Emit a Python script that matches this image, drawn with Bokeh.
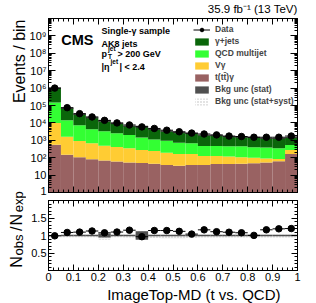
import numpy as np
from math import pi
from bokeh.plotting import figure
from bokeh.layouts import column, row
from bokeh.models import (Range1d, FixedTicker, LinearAxis, LogAxis, Label, Title,
                          Legend, LegendItem, CustomLabelingPolicy)
from bokeh.embed import file_html
from bokeh.resources import INLINE

# ---------------- data ----------------
bin_lo = [0.00, 0.05, 0.10, 0.15, 0.20, 0.25, 0.30, 0.35, 0.40, 0.45,
          0.50, 0.55, 0.60, 0.65, 0.70, 0.75, 0.80, 0.85, 0.90, 0.95]
bin_hi = [0.05, 0.10, 0.15, 0.20, 0.25, 0.30, 0.35, 0.40, 0.45, 0.50,
          0.55, 0.60, 0.65, 0.70, 0.75, 0.80, 0.85, 0.90, 0.95, 1.00]
data_obs = [1.0e6, 75000, 34000, 22000, 14000, 10000, 7600, 5900, 4800, 3800,
            3100, 2600, 2300, 2050, 1750, 1650, 1500, 1500, 1500, 1750]
gjets = [860000, 55000, 23700, 15200, 9700, 6600, 4600, 4650, 3100, 2390,
         2050, 1820, 1510, 1380, 1150, 1080, 1100, 900, 910, 925]
qcd = [140000, 12400, 6400, 3630, 2810, 2090, 1650, 1180, 855, 745,
       555, 515, 344, 344, 332, 343, 297, 301, 265, 260]
vgamma = [9250, 1455, 793, 588, 421, 350, 297, 226, 200, 158,
          131, 128, 88, 83, 75, 62, 50, 36, 23, 110]
ttgamma = [550, 145, 107, 82, 69, 60, 53, 49, 45, 37,
           34, 37, 38, 43, 43, 45, 48, 53, 62, 165]
stat_unc = [0.01, 0.02, 0.02, 0.02, 0.06, 0.02, 0.02, 0.12, 0.02, 0.02,
            0.02, 0.02, 0.02, 0.02, 0.02, 0.02, 0.02, 0.02, 0.02, 0.02]
syst_unc_dn = [0.05, 0.05, 0.05, 0.05, 0.12, 0.05, 0.06, 0.10, 0.07, 0.09,
               0.09, 0.07, 0.06, 0.06, 0.06, 0.06, 0.06, 0.06, 0.06, 0.06]
syst_unc_up = [0.02, 0.02, 0.02, 0.02, 0.06, 0.02, 0.02, 0.12, 0.02, 0.02,
               0.02, 0.02, 0.02, 0.02, 0.02, 0.02, 0.02, 0.02, 0.02, 0.02]

x_ticks = [0.0, 0.1, 0.2, 0.3, 0.4, 0.5, 0.6, 0.7, 0.8, 0.9, 1.0]
x_tick_labels = ["0", "0.1", "0.2", "0.3", "0.4", "0.5", "0.6", "0.7", "0.8", "0.9", "1"]
y_ticks = [1, 10, 100, 1000, 10000, 100000, 1000000, 10000000, 100000000, 1000000000]
y_tick_labels = ["1", "10", "10²", "10³", "10⁴", "10⁵", "10⁶", "10⁷", "10⁸", "10⁹"]
r_ticks = [0.5, 1.0, 1.5]
r_tick_labels = ["0.5", "1", "1.5"]

legend_labels = ["Data", "γ+jets", "QCD multijet", "Vγ", "t(tt̄)γ",
                 "Bkg unc (stat)", "Bkg unc (stat+syst)"]

# ---------------- styling ----------------
FONT = "Liberation Sans"
C_GJ = "#0a660a"
C_QCD = "#33ff33"
C_VG = "#ffcc33"
C_TT = "#996262"
C_STAT = "#505050"

lo = np.array(bin_lo); hi = np.array(bin_hi)
xc = (lo + hi) / 2
d = np.array(data_obs, float)
comps = [np.array(ttgamma, float), np.array(vgamma, float),
         np.array(qcd, float), np.array(gjets, float)]
total = sum(comps)
stat = np.array(stat_unc); sdn = np.array(syst_unc_dn); sup = np.array(syst_unc_up)
ratio = d / total
ratio_err = np.sqrt(d) / total

NO_LABELS = "for (const i of indices) { indices.unset(i) }\nreturn indices"


def style_axis(ax, labels=True, major=6, minor=3):
    ax.major_tick_in = major
    ax.major_tick_out = 0
    ax.minor_tick_in = minor
    ax.minor_tick_out = 0
    ax.axis_line_color = "black"
    ax.major_tick_line_color = "black"
    ax.minor_tick_line_color = "black"
    ax.major_label_text_font = FONT
    ax.major_label_text_font_size = "11px"
    ax.major_label_text_color = "black"
    ax.major_label_standoff = 2
    ax.axis_label = None
    if not labels:
        ax.major_label_policy = CustomLabelingPolicy(code=NO_LABELS)
        ax.major_label_text_font_size = "1px"
        ax.major_label_standoff = 0


def lab(p, x, y, text, size, angle=0.0, align="left", style="normal", baseline="alphabetic"):
    p.add_layout(Label(x=x, y=y, x_units="screen", y_units="screen", text=text,
                       angle=angle, angle_units="rad", text_align=align,
                       text_baseline=baseline, text_font=FONT,
                       text_font_size=size, text_font_style=style,
                       text_color="black"))


def strip(w, h):
    s = figure(width=w, height=h, x_range=Range1d(0, 1), y_range=Range1d(0, 1),
               x_axis_location=None, y_axis_location=None, output_backend="svg",
               toolbar_location=None, min_border=0, min_border_left=0,
               min_border_right=0, min_border_top=0, min_border_bottom=0)
    s.grid.visible = False
    s.outline_line_color = None
    return s


# ---------------- top panel ----------------
top = figure(width=290, height=196, x_range=Range1d(0, 1), y_range=Range1d(1, 1e10),
             y_axis_type="log", output_backend="svg", toolbar_location=None,
             min_border_left=22, min_border_right=19, min_border_top=17, min_border_bottom=3)
top.grid.visible = False
top.outline_line_color = "black"

xtick = FixedTicker(ticks=x_ticks, minor_ticks=[i * 0.02 for i in range(51)])
ytick = FixedTicker(ticks=y_ticks,
                    minor_ticks=[m * 10.0 ** e for e in range(10) for m in range(2, 10)])
top.xaxis.ticker = xtick
style_axis(top.xaxis[0], labels=False)
top.yaxis.ticker = ytick
style_axis(top.yaxis[0], labels=True, major=7, minor=3)
top.yaxis[0].major_label_overrides = dict(zip(y_ticks, y_tick_labels))
ax_t = LinearAxis(ticker=xtick); style_axis(ax_t, labels=False)
top.add_layout(ax_t, "above")
ax_r = LogAxis(ticker=ytick); style_axis(ax_r, labels=False, major=7, minor=3)
top.add_layout(ax_r, "right")
top.add_layout(Title(text="35.9 fb⁻¹ (13 TeV)", align="right", standoff=0,
                     text_font=FONT, text_font_size="11.5px", text_font_style="normal",
                     text_color="black"), "above")

bottom = np.full(len(lo), 0.5)
colors = [C_TT, C_VG, C_QCD, C_GJ]
stack_r = []
for c, col in zip(comps, colors):
    r = top.quad(left=lo, right=hi, bottom=bottom, top=bottom + c,
                 fill_color=col, line_color=None)
    stack_r.append(r)
    bottom = bottom + c

r_syst = top.quad(left=lo, right=hi, bottom=total * (1 - sdn), top=total * (1 + sup),
                  fill_color="#f4f4f4", fill_alpha=0.0, line_color=None,
                  hatch_pattern="dot", hatch_color="#b8b8b8", hatch_scale=3)
r_stat = top.quad(left=lo, right=hi, bottom=total * (1 - stat), top=total * (1 + stat),
                  fill_color=C_STAT, line_color=None)
top.segment(x0=lo, x1=hi, y0=total, y1=total, line_color="#333333", line_width=1)

r_dseg = top.segment(x0=lo, x1=hi, y0=d, y1=d, line_color="black", line_width=1)
top.segment(x0=xc, x1=xc, y0=d - np.sqrt(d), y1=d + np.sqrt(d), line_color="black", line_width=1)
r_dpt = top.scatter(xc, d, size=6.5, color="black")

legend = Legend(items=[
    LegendItem(label=legend_labels[0], renderers=[r_dseg, r_dpt]),
    LegendItem(label=legend_labels[1], renderers=[stack_r[3]]),
    LegendItem(label=legend_labels[2], renderers=[stack_r[2]]),
    LegendItem(label=legend_labels[3], renderers=[stack_r[1]]),
    LegendItem(label=legend_labels[4], renderers=[stack_r[0]]),
    LegendItem(label=legend_labels[5], renderers=[r_stat]),
    LegendItem(label=legend_labels[6], renderers=[r_syst]),
], location=(145, 85), glyph_width=17, glyph_height=9, label_standoff=5, spacing=0,
    padding=0, margin=0, border_line_color=None, background_fill_alpha=0,
    label_text_font=FONT, label_text_font_size="8.5px", label_text_font_style="bold",
    label_height=12)
top.add_layout(legend)

# texts inside the frame
lab(top, 12.7, 153, "CMS", "14.5px", style="bold")
lab(top, 53, 161.3, "Single-γ sample", "9px", style="bold")
lab(top, 53, 148.7, "AK8 jets", "9px", style="bold")
lab(top, 53, 139, "p", "9px", style="bold")
lab(top, 59.5, 144.5, "jet", "6.5px", style="bold")
lab(top, 59.5, 136.5, "T", "6.5px", style="bold")
lab(top, 69, 138.5, "> 200 GeV", "9px", style="bold")
lab(top, 53, 126, "|η", "9px", style="bold")
lab(top, 62, 131, "jet", "6.5px", style="bold")
lab(top, 71, 126, "| < 2.4", "9px", style="bold")

# ---------------- ratio panel ----------------
bot = figure(width=290, height=107, x_range=top.x_range, y_range=Range1d(0, 2),
             output_backend="svg", toolbar_location=None,
             min_border_left=22, min_border_right=19, min_border_top=2, min_border_bottom=33)
bot.grid.visible = False
bot.outline_line_color = "black"
bot.xaxis.ticker = xtick
style_axis(bot.xaxis[0], labels=True)
bot.xaxis[0].major_label_overrides = dict(zip(x_ticks, x_tick_labels))
rtick = FixedTicker(ticks=r_ticks, minor_ticks=[i * 0.1 for i in range(21)])
bot.yaxis.ticker = rtick
style_axis(bot.yaxis[0], labels=True)
bot.yaxis[0].major_label_overrides = dict(zip(r_ticks, r_tick_labels))
bx_t = LinearAxis(ticker=xtick); style_axis(bx_t, labels=False)
bot.add_layout(bx_t, "above")
by_r = LinearAxis(ticker=rtick); style_axis(by_r, labels=False)
bot.add_layout(by_r, "right")
bot.add_layout(Title(text="ImageTop-MD (t vs. QCD)", align="right", offset=17, standoff=0,
                     text_font=FONT, text_font_size="15px", text_font_style="normal",
                     text_color="black"), "below")

bot.quad(left=lo, right=hi, bottom=1 - sdn, top=1 + sup, fill_color="#f4f4f4",
         line_color=None, hatch_pattern="dot", hatch_color="#b8b8b8", hatch_scale=3)
bot.quad(left=lo, right=hi, bottom=1 - stat, top=1 + stat, fill_color=C_STAT, line_color=None)
bot.segment(x0=lo, x1=hi, y0=ratio, y1=ratio, line_color="black", line_width=1)
bot.segment(x0=xc, x1=xc, y0=ratio - ratio_err, y1=ratio + ratio_err, line_color="black")
bot.scatter(xc, ratio, size=6.5, color="black")

# ---------------- left text strip (outside the frames) ----------------
left = strip(26, 303)
lab(left, 19, 284, "Events / bin", "16px", angle=pi / 2, align="right")
lab(left, 15.7, 35.7, "N", "16px", angle=pi / 2)
lab(left, 18.3, 48, "obs", "13px", angle=pi / 2)
lab(left, 15.7, 72.5, "/", "16px", angle=pi / 2)
lab(left, 15.7, 78, "N", "16px", angle=pi / 2)
lab(left, 18.3, 91.3, "exp", "13px", angle=pi / 2)

layout = row(left, column(top, bot))
open("out.html", "w").write(file_html(layout, INLINE))
